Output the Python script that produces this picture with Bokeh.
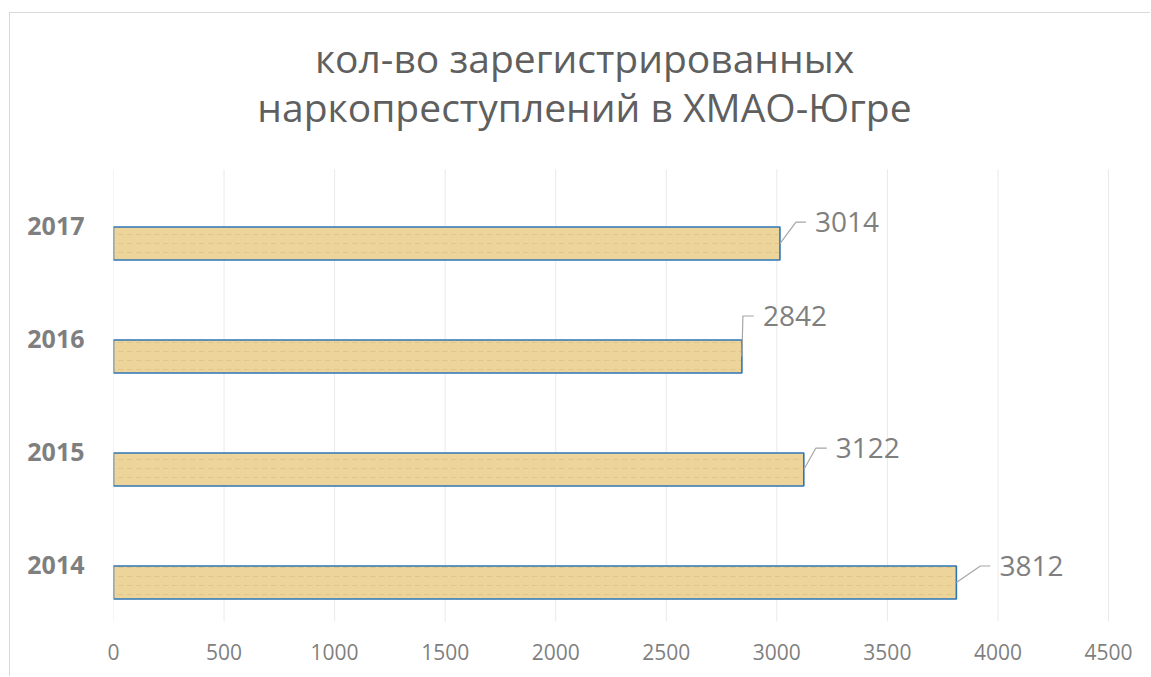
from bokeh.plotting import figure
from bokeh.models import Range1d, FixedTicker, ColumnDataSource
from bokeh.core.properties import value
from bokeh.embed import file_html
from bokeh.resources import INLINE

# --- data -------------------------------------------------------------------
years = ["2014", "2015", "2016", "2017"]
counts = [3812, 3122, 2842, 3014]
x_ticks = [0, 500, 1000, 1500, 2000, 2500, 3000, 3500, 4000, 4500]
title_lines = ["кол-во зарегистрированных", "наркопреступлений в ХМАО-Югре"]

# leader-line shape for each data label, in pixels measured from the bar end:
# elbow offset (dx, dy; negative dy is upwards) and the horizontal tail length
leader_dx = [24, 12, 1, 16]
leader_dy = [-16.5, -21.3, -40.5, -21.3]
leader_tail = [10, 11, 11, 10]

# --- layout -------------------------------------------------------------------
# the chart area sits inside a thin grey border (9px/12px page margin + 1px line)
MX, MY = 9, 12
W, H = 1151 - MX - 1, 677 - MY - 1
LEFT, BOTTOM = 103, 56          # axis panels; the frame fills the rest
PLOT_W = 995                    # width of the 0..4500 scale
PLOT_H = 452                    # height of the four category bands
FW = W - LEFT
FH = H - BOTTOM
X_MAX = x_ticks[-1]
ux = X_MAX / PLOT_W             # data units per pixel, x
uy = len(years) / PLOT_H        # data units per pixel, y
Y0 = -0.5
Y_TOP = Y0 + len(years)         # top of the category area

BAR_SHIFT = 0.155               # bars sit slightly below the category centre
BAR_H = 0.292

FONT = "Open Sans"
GREY = "#7f7f7f"

p = figure(width=W, height=H,
           x_range=Range1d(0, FW * ux), y_range=Range1d(Y0, Y0 + FH * uy),
           output_backend="svg", toolbar_location=None,
           min_border_left=LEFT, min_border_right=0,
           min_border_top=0, min_border_bottom=BOTTOM)
p.margin = (MY, 0, 0, MX)
p.styles = {"border-left": "1px solid #d9d9d9", "border-top": "1px solid #d9d9d9"}
p.outline_line_color = None
p.background_fill_color = "white"
p.border_fill_color = "white"
p.title.visible = False

# axes
p.xaxis.ticker = FixedTicker(ticks=x_ticks)
p.xgrid.grid_line_color = None
p.ygrid.grid_line_color = None
p.xaxis.axis_line_color = None
p.xaxis.major_tick_line_color = None
p.xaxis.minor_tick_line_color = None
p.xaxis.major_label_text_font = FONT
p.xaxis.major_label_text_font_size = "21px"
p.xaxis.major_label_text_color = GREY
p.xaxis.major_label_standoff = 16

p.yaxis.ticker = FixedTicker(ticks=list(range(len(years))))
p.yaxis.major_label_overrides = {i: y for i, y in enumerate(years)}
p.yaxis.axis_line_color = None
p.yaxis.major_tick_line_color = None
p.yaxis.minor_tick_line_color = None
p.yaxis.major_label_text_font = FONT
p.yaxis.major_label_text_font_style = "bold"
p.yaxis.major_label_text_font_size = "25px"
p.yaxis.major_label_text_color = GREY
p.yaxis.major_label_standoff = 23

# vertical gridlines over the category area only
p.segment(x0=x_ticks, x1=x_ticks, y0=Y0, y1=Y_TOP,
          line_color="#e9e9e9", line_width=1)

# bars
ypos = [i - BAR_SHIFT for i in range(len(years))]
src = ColumnDataSource(dict(y=ypos, right=counts, year=years))
p.hbar(y="y", right="right", left=0, height=BAR_H, source=src,
       fill_color="#ecd49b", line_color="#2e75b6", line_width=1.6,
       hatch_pattern="horizontal_dash", hatch_color="#c6a35c",
       hatch_alpha=0.28, hatch_scale=9, hatch_weight=1)

# leader lines and value labels
lx, ly = [], []
for v, yc, dx, dy, tail in zip(counts, ypos, leader_dx, leader_dy, leader_tail):
    lx.append([v, v + dx * ux, v + (dx + tail) * ux])
    ly.append([yc, yc - dy * uy, yc - dy * uy])
p.multi_line(xs=lx, ys=ly, line_color="#a6a6a6", line_width=1.2)

lab = ColumnDataSource(dict(
    x=counts, y=ypos, text=[str(c) for c in counts],
    xo=[dx + t + 9 for dx, t in zip(leader_dx, leader_tail)],
    yo=[dy - 0.5 for dy in leader_dy]))
p.text(x="x", y="y", text="text", x_offset="xo", y_offset="yo", source=lab,
       text_font=value(FONT), text_font_size="28px", text_color=GREY,
       text_align="left", text_baseline="alphabetic")

# two-line title, centred above the bars (pixel offsets from the frame's top-left)
TITLE_SIZE = 39
title_cx = 574 - LEFT
title_rows = [61 - 0.43 * TITLE_SIZE, 110 - 0.43 * TITLE_SIZE]
y_end = Y0 + FH * uy
p.text(x=[title_cx * ux] * 2, y=[y_end - r * uy for r in title_rows],
       text=title_lines, text_font=value(FONT),
       text_font_size=f"{TITLE_SIZE}px", text_color="#5f5f5f",
       text_align="center", text_baseline="alphabetic")

open("out.html", "w").write(file_html(p, INLINE))
